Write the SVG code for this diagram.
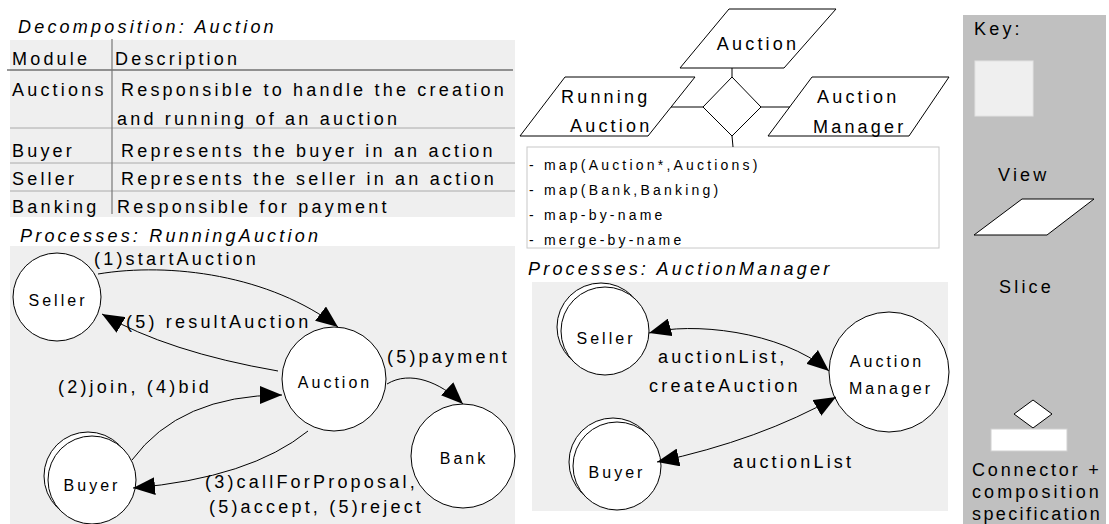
<svg xmlns="http://www.w3.org/2000/svg" width="1109" height="524" viewBox="0 0 1109 524">
<style>
.t{font-family:"Liberation Sans",Arial,sans-serif;font-size:18px;letter-spacing:3.2px;fill:#000}
.i{font-style:italic}
.c{font-size:16px;letter-spacing:3px;text-anchor:middle}
.m{text-anchor:middle}
.s{font-size:14px;letter-spacing:3.2px}
.node{fill:#fff;stroke:#000;stroke-width:1}
.edge{fill:none;stroke:#000;stroke-width:1}
.bg{fill:#efefef}
.row{stroke:#aaa;stroke-width:1}
</style>
<defs>
<marker id="ah" markerUnits="userSpaceOnUse" markerWidth="22" markerHeight="18" refX="22" refY="9" orient="auto-start-reverse" viewBox="0 0 22 18">
<path d="M0,0 L22,9 L0,18 z" fill="#000"/>
</marker>
</defs>

<!-- Decomposition table -->
<g id="table">
<text class="t i" x="18" y="33">Decomposition: Auction</text>
<rect class="bg" x="10" y="40" width="505" height="177"/>
<line x1="7" y1="70" x2="513" y2="70" stroke="#333" stroke-width="1.2"/>
<line class="row" x1="10" y1="128" x2="515" y2="128"/>
<line class="row" x1="10" y1="163" x2="515" y2="163"/>
<line class="row" x1="10" y1="191" x2="515" y2="191"/>
<line x1="112" y1="39" x2="112" y2="214" stroke="#777" stroke-width="1.2"/>
<text class="t" x="12" y="65">Module</text>
<text class="t" x="115" y="65">Description</text>
<text class="t" x="12" y="96">Auctions</text>
<text class="t" x="121" y="96">Responsible to handle the creation</text>
<text class="t" x="117" y="125">and running of an auction</text>
<text class="t" x="12" y="157">Buyer</text>
<text class="t" x="121" y="157">Represents the buyer in an action</text>
<text class="t" x="12" y="185">Seller</text>
<text class="t" x="121" y="185">Represents the seller in an action</text>
<text class="t" x="12" y="213">Banking</text>
<text class="t" x="117" y="213">Responsible for payment</text>
</g>

<!-- Processes: RunningAuction -->
<g id="panel-running">
<text class="t i" x="20" y="242">Processes: RunningAuction</text>
<rect class="bg" x="10" y="246" width="505" height="278"/>
</g>

<g id="ra-seller">
<circle class="node" cx="57" cy="297" r="44"/>
<text class="t c" x="58" y="306">Seller</text>
</g>
<g id="ra-auction">
<circle class="node" cx="334" cy="379" r="52"/>
<text class="t c" x="335" y="388">Auction</text>
</g>
<g id="ra-bank">
<circle class="node" cx="463" cy="456" r="52"/>
<text class="t c" x="464" y="464">Bank</text>
</g>
<g id="ra-buyer">
<circle class="node" cx="88" cy="476" r="44"/>
<circle class="node" cx="92" cy="480" r="44"/>
<text class="t c" x="92" y="491">Buyer</text>
</g>

<!-- Top centre: slices and connector -->
<g id="slice-auction">
<polygon class="node" points="729,9 836,9 784,68 680,68"/>
<text class="t m" x="758" y="50">Auction</text>
</g>
<g id="slice-running">
<polygon class="node" points="565,77 695,77 648,136 520,136"/>
<text class="t" x="561" y="103">Running</text>
<text class="t" x="570" y="132">Auction</text>
</g>
<g id="slice-manager">
<polygon class="node" points="812,77 949,77 909,136 768,136"/>
<text class="t" x="817" y="103">Auction</text>
<text class="t" x="813" y="133">Manager</text>
</g>
<g id="connector">
<polygon class="node" points="732,77 761,107 732,136 703,107"/>
</g>
<g id="spec">
<rect x="527" y="147" width="412" height="101" fill="#fff" stroke="#c8c8c8" stroke-width="1"/>
<text class="t s" x="529" y="170">- map(Auction*,Auctions)</text>
<text class="t s" x="529" y="195">- map(Bank,Banking)</text>
<text class="t s" x="529" y="220">- map-by-name</text>
<text class="t s" x="529" y="245">- merge-by-name</text>
</g>

<!-- Processes: AuctionManager -->
<g id="panel-manager">
<text class="t i" x="528" y="275">Processes: AuctionManager</text>
<rect class="bg" x="532" y="282" width="416" height="229"/>
</g>
<g id="am-seller">
<circle class="node" cx="601" cy="327" r="44"/>
<circle class="node" cx="605" cy="331" r="44"/>
<text class="t c" x="606" y="344">Seller</text>
</g>
<g id="am-buyer">
<circle class="node" cx="613" cy="462" r="44"/>
<circle class="node" cx="617" cy="466" r="44"/>
<text class="t c" x="617" y="478">Buyer</text>
</g>
<g id="am-manager">
<circle class="node" cx="889" cy="372" r="60"/>
<text class="t c" x="887" y="367">Auction</text>
<text class="t c" x="891" y="394">Manager</text>
</g>

<!-- Key -->
<g id="key">
<rect x="963" y="15" width="143" height="509" fill="#c0c0c0"/>
<text class="t" x="974" y="35">Key:</text>
<rect x="975" y="61" width="58" height="55" fill="#efefef" stroke="#e2e2e2" stroke-width="1"/>
<text class="t" x="998" y="181">View</text>
<polygon class="node" points="1022,199 1094,199 1047,235 974,235"/>
<text class="t" x="999" y="293">Slice</text>
<polygon class="node" points="1033,400 1052,414 1033,428 1014,414"/>
<rect x="991" y="429" width="76" height="22" fill="#fff" stroke="#d0d0d0" stroke-width="1"/>
<text class="t" x="972" y="476" textLength="130" lengthAdjust="spacing">Connector +</text>
<text class="t" x="972" y="498" textLength="130" lengthAdjust="spacing">composition</text>
<text class="t" x="972" y="520" textLength="131" lengthAdjust="spacing">specification</text>
</g>

<!-- Connectors -->
<g id="connectors">
<line class="edge" x1="732" y1="68" x2="732" y2="77"/>
<line class="edge" x1="671" y1="107" x2="703" y2="107"/>
<line class="edge" x1="761" y1="107" x2="790" y2="107"/>
<line class="edge" x1="732" y1="136" x2="733" y2="147"/>

<path class="edge" d="M98,274 C170,262 270,275 338,327" marker-end="url(#ah)"/>
<path class="edge" d="M278,371 Q168,352 102,314" marker-end="url(#ah)"/>
<path class="edge" d="M132,460 Q180,395 282,395" marker-end="url(#ah)"/>
<path class="edge" d="M308,431 Q250,478 133,488" marker-end="url(#ah)"/>
<path class="edge" d="M387,384 C410,370 440,382 463,404" marker-end="url(#ah)"/>

<path class="edge" d="M649,333 C690,322 780,330 829,371" marker-start="url(#ah)" marker-end="url(#ah)"/>
<path class="edge" d="M657,462 Q760,440 836,397" marker-start="url(#ah)" marker-end="url(#ah)"/>

<text class="t" x="94" y="265">(1)startAuction</text>
<text class="t" x="126" y="328">(5) resultAuction</text>
<text class="t" x="387" y="363">(5)payment</text>
<text class="t" x="58" y="393">(2)join, (4)bid</text>
<text class="t" x="205" y="488">(3)callForProposal,</text>
<text class="t" x="209" y="513">(5)accept, (5)reject</text>
<text class="t" x="658" y="363">auctionList,</text>
<text class="t" x="649" y="392">createAuction</text>
<text class="t" x="733" y="468">auctionList</text>
</g>
</svg>
